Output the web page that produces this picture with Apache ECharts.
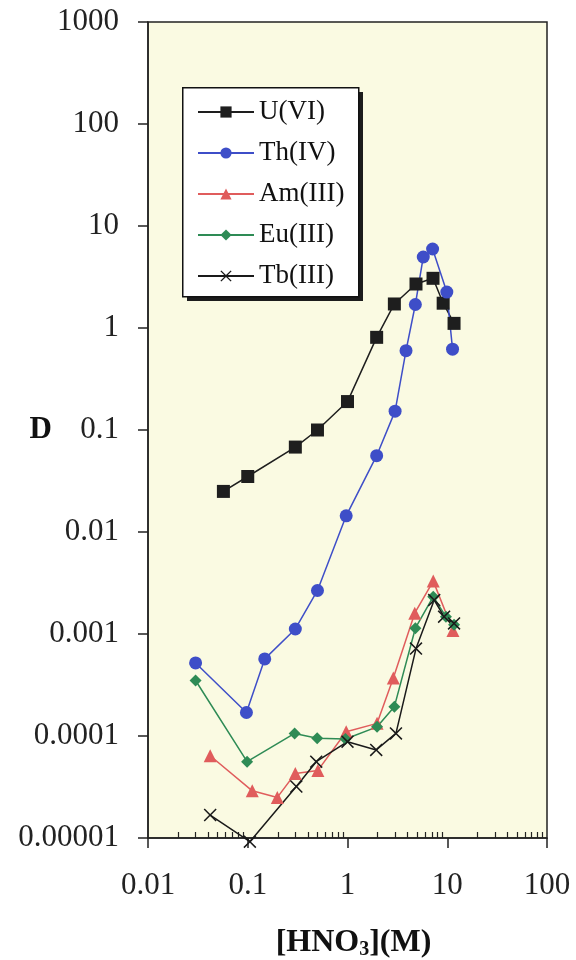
<!DOCTYPE html>
<html>
<head>
<meta charset="utf-8">
<script src="https://cdn.jsdelivr.net/npm/echarts@6/dist/echarts.min.js"></script>
<style>
html,body{margin:0;padding:0;background:#ffffff;}
#chart{width:576px;height:960px;}
</style>
</head>
<body>
<div id="chart"></div>
<script>
// ---- data ----
var seriesNames = ['U(VI)', 'Th(IV)', 'Am(III)', 'Eu(III)', 'Tb(III)'];

var xU  = [0.057, 0.10, 0.30, 0.50, 1.0, 1.96, 2.95, 4.86, 7.2, 9.1, 11.7];
var dU  = [0.025, 0.035, 0.068, 0.10, 0.19, 0.81, 1.72, 2.7, 3.07, 1.75, 1.11];

var xTh = [0.030, 0.097, 0.148, 0.30, 0.50, 0.97, 1.96, 3.0, 3.86, 4.79, 5.75, 7.13, 9.9, 11.3];
var dTh = [0.00052, 0.00017, 0.00057, 0.00112, 0.00267, 0.0144, 0.056, 0.153, 0.60, 1.7, 4.97, 5.95, 2.25, 0.62];

var xAm = [0.042, 0.111, 0.198, 0.30, 0.505, 0.97, 1.98, 2.88, 4.72, 7.24, 11.4];
var dAm = [6.4e-5, 2.9e-5, 2.5e-5, 4.3e-5, 4.6e-5, 1.1e-4, 1.33e-4, 3.7e-4, 1.6e-3, 3.3e-3, 1.08e-3];

var xEu = [0.030, 0.0985, 0.295, 0.497, 0.955, 1.98, 2.95, 4.79, 7.24, 9.7, 11.7];
var dEu = [3.5e-4, 5.6e-5, 1.06e-4, 9.5e-5, 9.35e-5, 1.23e-4, 1.94e-4, 1.14e-3, 2.32e-3, 1.48e-3, 1.23e-3];

var xTb = [0.042, 0.105, 0.307, 0.486, 1.0, 1.94, 3.06, 4.86, 7.4, 9.3, 11.7];
var dTb = [1.68e-5, 9.2e-6, 3.2e-5, 5.6e-5, 8.8e-5, 7.3e-5, 1.06e-4, 7.2e-4, 2.15e-3, 1.48e-3, 1.27e-3];

var xTickLabels = ['0.01', '0.1', '1', '10', '100'];
var yTickLabels = ['0.00001', '0.0001', '0.001', '0.01', '0.1', '1', '10', '100', '1000'];
var xMinorTicks = [0.02,0.03,0.04,0.05,0.06,0.07,0.08,0.09,
                   0.2,0.3,0.4,0.5,0.6,0.7,0.8,0.9,
                   2,3,4,5,6,7,8,9,
                   20,30,40,50,60,70,80,90];

function pairs(xs, ys) { return xs.map(function (x, i) { return [x, ys[i]]; }); }

var SERIF = '"Liberation Serif","Times New Roman",serif';
var xMark = 'path://M0,1L1,0L6,5L11,0L12,1L7,6L12,11L11,12L6,7L1,12L0,11L5,6Z';

var chart = echarts.init(document.getElementById('chart'), null, {renderer: 'canvas'});

function lineSeries(name, data, color, symbol, size) {
  return {
    name: name, type: 'line', data: data,
    xAxisIndex: 0, yAxisIndex: 0,
    symbol: symbol, symbolSize: size, showAllSymbol: true,
    clip: false,
    lineStyle: {color: color, width: 1.5},
    itemStyle: {color: color, opacity: 1},
    emphasis: {disabled: true},
    z: 3
  };
}

var option = {
  animation: false,
  backgroundColor: '#ffffff',
  grid: {
    left: 148, right: 29, top: 22, bottom: 122,
    outerBoundsMode: 'none', containLabel: false,
    show: true, backgroundColor: '#fafae2', borderColor: '#222', borderWidth: 1.5
  },
  graphic: [
    {type: 'rect', left: 187, top: 92, shape: {width: 176, height: 209}, style: {fill: '#1c1c1c'}, z: 10},
    {type: 'rect', left: 182, top: 87, shape: {width: 176, height: 209}, style: {fill: '#ffffff', stroke: '#111', lineWidth: 1.5}, z: 11}
  ],
  legend: {
    data: seriesNames,
    orient: 'vertical',
    left: 182, top: 89,
    itemWidth: 56, itemHeight: 14, itemGap: 11,
    padding: [8, 10, 8, 15],
    z: 12,
    textStyle: {fontFamily: SERIF, fontSize: 27, color: '#111', lineHeight: 30},
    selectedMode: false
  },
  xAxis: [{
    type: 'log', logBase: 10, min: 0.01, max: 100, splitNumber: 4,
    position: 'bottom',
    name: '{a|[HNO}{s|3}{a|](M)}',
    nameLocation: 'middle', nameGap: 88,
    nameTextStyle: {
      padding: [0, 0, 0, 12],
      rich: {
        a: {fontFamily: SERIF, fontSize: 32, fontWeight: 'bold', color: '#111'},
        s: {fontFamily: SERIF, fontSize: 20, fontWeight: 'bold', color: '#111', padding: [14, 0, 0, 0]}
      }
    },
    axisLine: {show: true, lineStyle: {color: '#222', width: 1.5}},
    axisTick: {show: true, inside: false, length: 10, lineStyle: {color: '#222', width: 1.5}},
    axisLabel: {
      margin: 32, fontFamily: SERIF, fontSize: 31, color: '#222',
      formatter: function (v, i) { return xTickLabels[i]; }
    },
    splitLine: {show: false}
  }, {
    type: 'log', logBase: 10, min: 0.01, max: 100,
    position: 'bottom',
    axisLine: {show: false},
    axisTick: {show: true, inside: true, length: 6, customValues: xMinorTicks, lineStyle: {color: '#222', width: 1.2}},
    axisLabel: {show: false},
    splitLine: {show: false}
  }],
  yAxis: {
    type: 'log', logBase: 10, min: 0.00001, max: 1000, splitNumber: 8,
    name: 'D', nameLocation: 'middle', nameGap: 96, nameRotate: 0,
    nameMoveOverlap: false,
    nameTextStyle: {fontFamily: SERIF, fontSize: 31, fontWeight: 'bold', color: '#111'},
    axisLine: {show: true, lineStyle: {color: '#222', width: 1.5}},
    axisTick: {show: true, inside: false, length: 10, lineStyle: {color: '#222', width: 1.5}},
    axisLabel: {
      margin: 29, fontFamily: SERIF, fontSize: 31, color: '#222',
      formatter: function (v, i) { return yTickLabels[i]; }
    },
    splitLine: {show: false}
  },
  series: [
    lineSeries('U(VI)', pairs(xU, dU), '#1e1e1e', 'rect', 13),
    lineSeries('Th(IV)', pairs(xTh, dTh), '#3e4ec8', 'circle', 13),
    lineSeries('Am(III)', pairs(xAm, dAm), '#e05c5c', 'triangle', 13),
    lineSeries('Eu(III)', pairs(xEu, dEu), '#2e8b55', 'diamond', 12),
    lineSeries('Tb(III)', pairs(xTb, dTb), '#1a1a1a', xMark, 13)
  ]
};
chart.setOption(option);
</script>
</body>
</html>
